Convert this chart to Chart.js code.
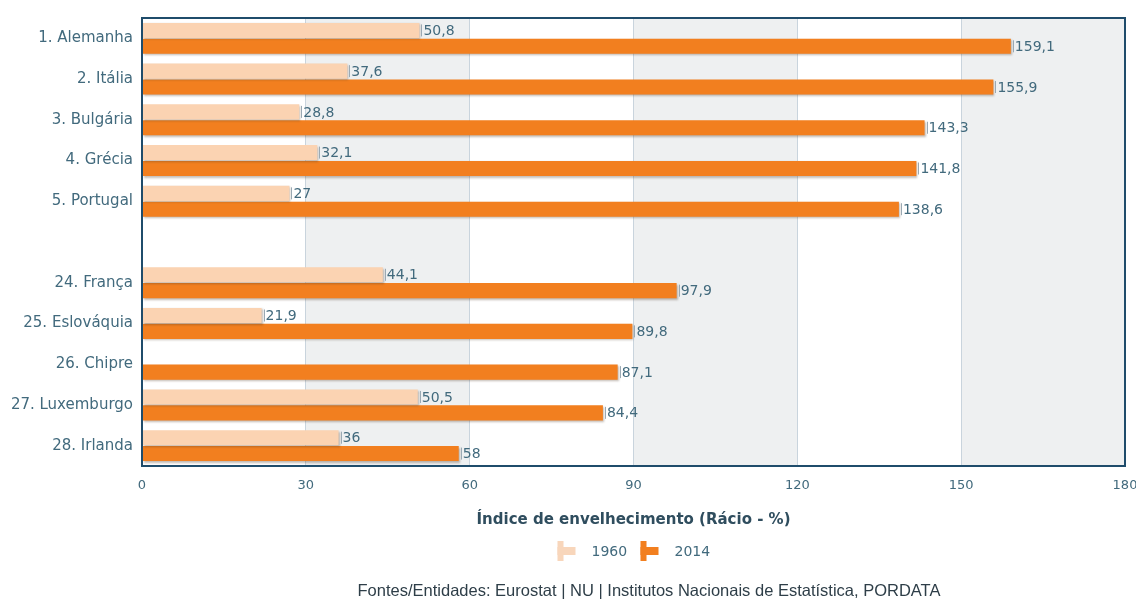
<!DOCTYPE html>
<html>
<head>
<meta charset="utf-8">
<script src="https://cdn.jsdelivr.net/npm/chart.js@4/dist/chart.umd.min.js"></script>
<style>
  html, body { margin: 0; padding: 0; background: #fff; }
  #grafico-wrap { width: 1136px; height: 601px; }
</style>
</head>
<body>
<div id="grafico-wrap"><canvas id="grafico"></canvas></div>
<script>
/* ** Datos ** */
const paises = ["1. Alemanha", "2. Itália", "3. Bulgária", "4. Grécia", "5. Portugal", "",
  "24. França", "25. Eslováquia", "26. Chipre", "27. Luxemburgo", "28. Irlanda"];
const indice1960 = [50.8, 37.6, 28.8, 32.1, 27, null, 44.1, 21.9, null, 50.5, 36];
const indice2014 = [159.1, 155.9, 143.3, 141.8, 138.6, null, 97.9, 89.8, 87.1, 84.4, 58];
const ticksX = [0, 30, 60, 90, 120, 150, 180];
const anos = ["1960", "2014"];

const corClara = "#fbd3b2";
const corLaranja = "#f27f1f";
const corTexto = "#426a7d";
const fonte = "'DejaVu Sans', Verdana, sans-serif";

function formatar(v) {
  return String(v).replace(".", ",");
}

/* Faixas alternadas no fundo */
const faixas = {
  id: "faixas",
  beforeDraw(chart) {
    const {ctx, chartArea: a, scales: {x}} = chart;
    ctx.save();
    ctx.fillStyle = "#eef0f1";
    for (let i = 0; i < ticksX.length - 1; i++) {
      if (i % 2 === 1) {
        const x0 = x.getPixelForValue(ticksX[i]);
        const x1 = x.getPixelForValue(ticksX[i + 1]);
        ctx.fillRect(x0, a.top, x1 - x0, a.bottom - a.top);
      }
    }
    ctx.restore();
  }
};

/* Sombra das barras */
const sombra = {
  id: "sombra",
  beforeDatasetsDraw(chart) {
    const ctx = chart.ctx;
    ctx.save();
    ctx.shadowColor = "rgba(80,60,40,0.35)";
    ctx.shadowOffsetX = 1;
    ctx.shadowOffsetY = 1.5;
    ctx.shadowBlur = 2;
  },
  afterDatasetsDraw(chart) {
    chart.ctx.restore();
  }
};

/* Etiquetas, borda, legenda e fonte */
const extras = {
  id: "extras",
  afterDraw(chart) {
    const {ctx, chartArea: a} = chart;
    ctx.save();
    // valores
    ctx.font = "14px " + fonte;
    ctx.textBaseline = "middle";
    chart.data.datasets.forEach((ds, i) => {
      chart.getDatasetMeta(i).data.forEach((bar, j) => {
        const v = ds.data[j];
        if (v === null) return;
        ctx.strokeStyle = "#9aa9b3";
        ctx.lineWidth = 1;
        ctx.beginPath();
        ctx.moveTo(Math.round(bar.x) + 2.5, bar.y - 6);
        ctx.lineTo(Math.round(bar.x) + 2.5, bar.y + 6);
        ctx.stroke();
        ctx.fillStyle = corTexto;
        ctx.textAlign = "left";
        ctx.fillText(formatar(v), bar.x + 4, bar.y + 1);
      });
    });
    // borda da área
    ctx.strokeStyle = "#1f4c6b";
    ctx.lineWidth = 2;
    ctx.strokeRect(a.left, a.top, a.right - a.left, a.bottom - a.top);

    // legenda
    const cx = (a.left + a.right) / 2;
    const ly = 551;
    const itens = [{cor: "#f8d6bb", x: cx - 76}, {cor: corLaranja, x: cx + 7}];
    itens.forEach((it, i) => {
      ctx.fillStyle = it.cor;
      ctx.fillRect(it.x, ly - 10, 6, 20);
      ctx.fillRect(it.x, ly - 4, 18, 8);
      ctx.fillStyle = corTexto;
      ctx.font = "14px " + fonte;
      ctx.textAlign = "left";
      ctx.fillText(anos[i], it.x + 34, ly + 1);
    });

    // fonte dos dados
    ctx.fillStyle = "#2e3e48";
    ctx.font = "16.5px 'Liberation Sans', Arial, sans-serif";
    ctx.textAlign = "center";
    ctx.fillText("Fontes/Entidades: Eurostat | NU | Institutos Nacionais de Estatística, PORDATA", 649, 591);
    ctx.restore();
  }
};

const data = {
  labels: paises,
  datasets: [
    { label: anos[0], data: indice1960, backgroundColor: corClara,
      categoryPercentage: 0.78, barPercentage: 0.95 },
    { label: anos[1], data: indice2014, backgroundColor: corLaranja,
      categoryPercentage: 0.78, barPercentage: 0.95 }
  ]
};

const config = {
  type: "bar",
  data: data,
  options: {
    indexAxis: "y",
    responsive: false,
    animation: false,
    layout: { padding: { left: 0, top: 16, right: 11, bottom: 68 } },
    scales: {
      x: {
        min: 0,
        max: 180,
        afterBuildTicks(axis) {
          axis.ticks = ticksX.map(v => ({value: v}));
        },
        afterFit(axis) {
          axis.height = 67;
          axis.paddingRight = 0;
          axis.paddingLeft = 0;
        },
        grid: { color: "#c9d4dd", drawTicks: false, lineWidth: 1 },
        border: { display: false },
        ticks: { color: corTexto, font: { family: fonte, size: 13 }, padding: 12 },
        title: {
          display: true,
          text: "Índice de envelhecimento (Rácio - %)",
          color: "#2f4d5e",
          font: { family: fonte, size: 15, weight: "bold" },
          padding: { top: 12 }
        }
      },
      y: {
        afterFit(axis) { axis.width = 142; },
        grid: { display: false, drawTicks: false },
        border: { display: false },
        ticks: { color: corTexto, font: { family: fonte, size: 15 }, padding: 9 }
      }
    },
    plugins: {
      legend: false,
      tooltip: { enabled: false }
    }
  },
  plugins: [faixas, sombra, extras]
};

const canvas = document.getElementById("grafico");
canvas.width = 1136;
canvas.height = 601;
const grafico = new Chart(canvas, config);
</script>
</body>
</html>
